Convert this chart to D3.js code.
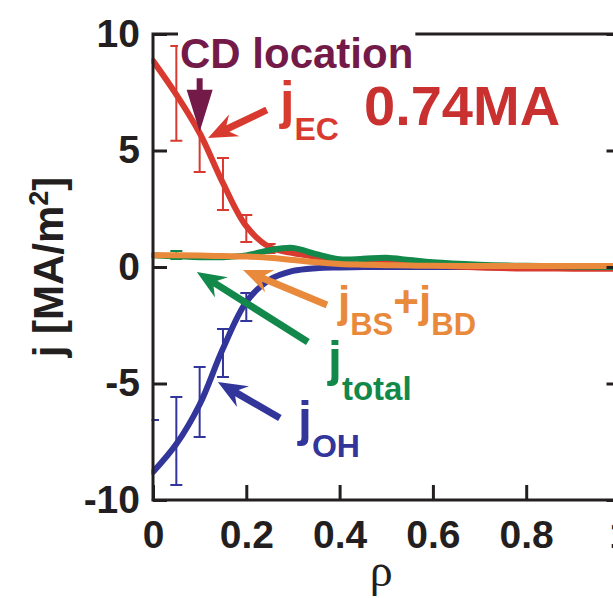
<!DOCTYPE html>
<html>
<head>
<meta charset="utf-8">
<script src="https://cdn.jsdelivr.net/npm/d3@7"></script>
<style>
  html, body { margin: 0; padding: 0; background: #fff; }
  svg { display: block; }
</style>
</head>
<body>
<svg id="chart" width="613" height="598"></svg>
<script>
// Normalized radius grid and current-density profiles [MA/m^2]
const rho    = [0, 0.05, 0.1, 0.15, 0.2, 0.25, 0.3, 0.35, 0.4, 0.45, 0.5, 0.55, 0.6, 0.7, 0.8, 0.9, 1.0];
const jEC    = [8.85, 7.4, 5.75, 3.6, 1.75, 0.85, 0.6, 0.44, 0.3, 0.23, 0.22, 0.16, 0.08, -0.02, -0.06, -0.07, -0.08];
const jOH    = [-8.8, -7.6, -5.9, -3.5, -1.5, -0.55, -0.17, -0.05, -0.02, 0, 0, 0, 0, 0, 0, 0, 0];
const jTotal = [0.5, 0.46, 0.42, 0.42, 0.5, 0.72, 0.82, 0.55, 0.33, 0.35, 0.4, 0.3, 0.2, 0.1, 0.05, 0.02, 0.0];
const jBSBD  = [0.5, 0.5, 0.49, 0.47, 0.45, 0.4, 0.3, 0.2, 0.13, 0.1, 0.08, 0.06, 0.05, 0.04, 0.04, 0.04, 0.04];

// Error bars: [rho, low, high]
const errEC    = [[0.05, 5.42, 9.48], [0.1, 4.08, 7.4], [0.15, 2.45, 4.68], [0.2, 1.07, 2.23], [0.25, 0.6, 0.99]];
const errOH    = [[0, -10, -6.57], [0.05, -9.36, -5.58], [0.1, -7.3, -4.29], [0.15, -4.72, -2.66], [0.2, -2.32, -1.12]];
const errTotal = [[0.05, 0.34, 0.69]];

// Axis ticks
const xTicks = [0, 0.2, 0.4, 0.6, 0.8, 1];
const yTicks = [-10, -5, 0, 5, 10];

// Annotation arrows in data units: [rhoTail, jTail, rhoTip, jTip]
const arrowCD    = [0.1, 8.1, 0.1, 5.8];
const arrowEC    = [0.244, 6.74, 0.118, 5.54];
const arrowBSBD  = [0.373, -1.63, 0.193, -0.13];
const arrowTotal = [0.332, -3.22, 0.094, -0.21];
const arrowOH    = [0.272, -6.48, 0.139, -4.94];

const colors = {
  ec: "#d83a2f", oh: "#32359a", total: "#12884a", bs: "#e9893b",
  cd: "#741a48", axis: "#231f20", value: "#c93130"
};
const sans = "'Liberation Sans', Arial, Helvetica, sans-serif";

const svg = d3.select("#chart");
const x = d3.scaleLinear().domain([0, 1]).range([153, 619.5]);
const y = d3.scaleLinear().domain([-10, 10]).range([500, 34]);

svg.append("defs").append("clipPath").attr("id", "plot")
  .append("rect")
  .attr("x", x(0) - 1.5).attr("y", y(10))
  .attr("width", x(1) - x(0) + 1.5).attr("height", y(-10) - y(10));

const plot = svg.append("g").attr("clip-path", "url(#plot)");

const line = d3.line()
  .x((d, i) => x(rho[i]))
  .y(d => y(d))
  .curve(d3.curveCatmullRom.alpha(0.5));

function errorBars(data, color) {
  const g = plot.append("g").attr("stroke", color).attr("stroke-width", 2).attr("fill", "none");
  const cap = 6;
  data.forEach(([r, lo, hi]) => {
    g.append("line").attr("x1", x(r)).attr("x2", x(r)).attr("y1", y(lo)).attr("y2", y(hi));
    g.append("line").attr("x1", x(r) - cap).attr("x2", x(r) + cap).attr("y1", y(lo)).attr("y2", y(lo));
    g.append("line").attr("x1", x(r) - cap).attr("x2", x(r) + cap).attr("y1", y(hi)).attr("y2", y(hi));
  });
}

errorBars(errOH, colors.oh);
errorBars(errEC, colors.ec);
errorBars(errTotal, colors.total);

[[jOH, colors.oh], [jEC, colors.ec], [jTotal, colors.total], [jBSBD, colors.bs]].forEach(([vals, c]) => {
  plot.append("path").datum(vals)
    .attr("d", line)
    .attr("fill", "none")
    .attr("stroke", c)
    .attr("stroke-width", 6)
    .attr("stroke-linecap", "round")
    .attr("stroke-linejoin", "round");
});

// Frame
svg.append("rect")
  .attr("x", x(0)).attr("y", y(10))
  .attr("width", x(1) - x(0)).attr("height", y(-10) - y(10))
  .attr("fill", "none").attr("stroke", colors.axis).attr("stroke-width", 3);

function styleAxis(g) {
  g.select(".domain").remove();
  g.selectAll(".tick line").attr("stroke", colors.axis).attr("stroke-width", 3);
  g.selectAll(".tick text")
    .attr("fill", colors.axis)
    .style("font-family", sans)
    .style("font-weight", "bold")
    .style("font-size", "39px");
}

const plainNumber = d => String(d);

svg.append("g").attr("transform", `translate(${x(0)},0)`)
  .call(d3.axisLeft(y).tickValues(yTicks).tickFormat(plainNumber)
    .tickSizeInner(-14).tickSizeOuter(0).tickPadding(13))
  .call(styleAxis);

svg.append("g").attr("transform", `translate(0,${y(-10)})`)
  .call(d3.axisBottom(x).tickValues(xTicks).tickFormat(plainNumber)
    .tickSizeInner(-15).tickSizeOuter(0).tickPadding(20))
  .call(styleAxis);

svg.append("g").attr("transform", `translate(${x(1)},0)`)
  .call(d3.axisRight(y).tickValues(yTicks).tickFormat("").tickSizeInner(-13).tickSizeOuter(0))
  .call(styleAxis);

// Axis titles
const yTitle = svg.append("text")
  .attr("transform", `translate(63,${(y(10) + y(-10)) / 2}) rotate(-90)`)
  .attr("text-anchor", "middle")
  .attr("fill", colors.axis)
  .style("font-family", sans).style("font-weight", "bold").style("font-size", "42px");
yTitle.append("tspan").text("j [MA/m");
yTitle.append("tspan").attr("dy", -15).style("font-size", "27px").text("2");
yTitle.append("tspan").attr("dy", 15).text("]");

svg.append("text")
  .attr("x", (x(0) + x(1)) / 2 - 5).attr("y", 586)
  .attr("text-anchor", "middle")
  .attr("fill", colors.axis)
  .style("font-family", "'Liberation Serif', 'Times New Roman', serif")
  .style("font-size", "46px")
  .text("ρ");

// Arrow shapes
function arrowPath(a, shaft, headLen, headHalf, notch) {
  const x1 = x(a[0]), y1 = y(a[1]), x2 = x(a[2]), y2 = y(a[3]);
  const dx = x2 - x1, dy = y2 - y1, len = Math.hypot(dx, dy);
  const ux = dx / len, uy = dy / len, nx = -uy, ny = ux;
  const bx = x2 - ux * headLen, by = y2 - uy * headLen;
  const sx = x2 - ux * (headLen - notch), sy = y2 - uy * (headLen - notch);
  const pts = [
    [x1 + nx * shaft / 2, y1 + ny * shaft / 2],
    [sx + nx * shaft / 2, sy + ny * shaft / 2],
    [bx + nx * headHalf, by + ny * headHalf],
    [x2, y2],
    [bx - nx * headHalf, by - ny * headHalf],
    [sx - nx * shaft / 2, sy - ny * shaft / 2],
    [x1 - nx * shaft / 2, y1 - ny * shaft / 2]
  ];
  return "M" + pts.map(p => p.join(",")).join("L") + "Z";
}

svg.append("path").attr("d", arrowPath(arrowCD, 6, 42, 13, 0)).attr("fill", colors.cd);
svg.append("path").attr("d", arrowPath(arrowEC, 7, 29, 12, 7)).attr("fill", colors.ec);
svg.append("path").attr("d", arrowPath(arrowBSBD, 7, 29, 12, 7)).attr("fill", colors.bs);
svg.append("path").attr("d", arrowPath(arrowTotal, 7, 29, 12, 7)).attr("fill", colors.total);
svg.append("path").attr("d", arrowPath(arrowOH, 7, 29, 12, 7)).attr("fill", colors.oh);

// Text labels
const cdG = svg.append("g");
const cdText = cdG.append("text")
  .attr("x", 180).attr("y", 68)
  .attr("fill", colors.cd)
  .style("font-family", sans).style("font-weight", "bold").style("font-size", "42px")
  .text("CD location");
const bb = cdText.node().getBBox();
cdG.insert("rect", "text")
  .attr("x", bb.x - 2).attr("y", bb.y).attr("width", bb.width + 4).attr("height", bb.height)
  .attr("fill", "#fff");

svg.append("text")
  .attr("x", 364).attr("y", 125)
  .attr("fill", colors.value)
  .style("font-family", sans).style("font-weight", "bold").style("font-size", "56px")
  .text("0.74MA");

function subLabel(xPos, parts, color) {
  const t = svg.append("text").attr("x", xPos).attr("fill", color)
    .style("font-family", sans).style("font-weight", "bold");
  parts.forEach(([txt, size, base]) => {
    t.append("tspan").attr("y", base).style("font-size", size + "px").text(txt);
  });
}

subLabel(280, [["j", 52, 118], ["EC", 32, 140]], colors.ec);
subLabel(338, [["j", 44, 317], ["BS", 31, 335], ["+", 44, 317], ["j", 44, 317], ["BD", 31, 335]], colors.bs);
subLabel(328, [["j", 50, 376], ["total", 33, 400]], colors.total);
subLabel(298, [["j", 50, 436], ["OH", 32, 457]], colors.oh);
</script>
</body>
</html>
